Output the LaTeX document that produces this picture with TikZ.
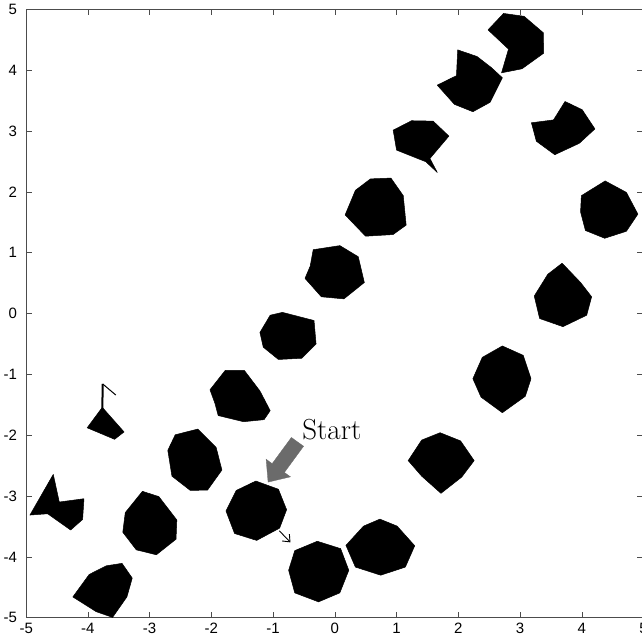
\documentclass[tikz,border=0pt]{standalone}
\usepackage{fontspec}
\newfontfamily\ticksfont{Liberation Sans}
\usetikzlibrary{arrows.meta}
\begin{document}
\begin{tikzpicture}[x=61.74pt,y=60.84pt,
  obst/.style={fill=black,draw=black,line width=0.5pt,line join=round},
  axisline/.style={draw=black!70,line width=0.7pt},
  tickmark/.style={draw=black!70,line width=0.6pt},
  ticklab/.style={font=\ticksfont\fontsize{15}{15}\selectfont,inner sep=0pt,text=black},
  startlab/.style={font=\fontsize{29}{32}\selectfont,inner sep=0pt,anchor=base west},
  bigarrow/.style={fill=black!58,draw=black!58,line width=0.3pt,line join=miter},
  smallarrow/.style={-{Straight Barb[length=6pt,width=10pt]},line width=0.9pt}
]
\useasboundingbox (-5.424,-5.332) rectangle (4.974,5.154);

% axes box and ticks
\draw[axisline] (-5,-5) rectangle (5,5);
\foreach \i in {-4,...,4}{
  \draw[tickmark] (\i,-5) -- (\i,-4.9);
  \draw[tickmark] (\i,5) -- (\i,4.9);
  \draw[tickmark] (-5,\i) -- (-4.9,\i);
  \draw[tickmark] (5,\i) -- (4.9,\i);
}
\foreach \i in {-5,...,5}{
  \node[ticklab,anchor=north] (xl\i) at (\i,-5.085) {\i};
  \node[ticklab,anchor=east] (yl\i) at (-5.146,\i) {\i};
}

% obstacles
\path[obst] (-4.244,-4.657) -- (-3.979,-4.287) -- (-3.700,-4.145) -- (-3.448,-4.105) -- (-3.282,-4.347) -- (-3.369,-4.657) -- (-3.601,-4.993) -- (-3.866,-4.899) -- cycle;
\path[obst] (-3.117,-2.921) -- (-2.851,-3.008) -- (-2.560,-3.392) -- (-2.573,-3.708) -- (-2.891,-3.964) -- (-3.216,-3.883) -- (-3.435,-3.594) -- (-3.395,-3.271) -- cycle;
\path[obst] (-2.586,-1.992) -- (-2.221,-1.898) -- (-1.923,-2.201) -- (-1.830,-2.571) -- (-2.062,-2.900) -- (-2.341,-2.907) -- (-2.639,-2.672) -- (-2.706,-2.248) -- cycle;
\path[obst] (-2.023,-1.252) -- (-1.777,-0.935) -- (-1.466,-0.935) -- (-1.214,-1.272) -- (-1.048,-1.595) -- (-1.147,-1.743) -- (-1.479,-1.777) -- (-1.890,-1.676) -- (-1.943,-1.474) -- cycle;
\path[obst] (-1.214,-0.310) -- (-1.048,-0.027) -- (-0.849,0.020) -- (-0.338,-0.114) -- (-0.305,-0.498) -- (-0.537,-0.734) -- (-0.915,-0.754) -- (-1.160,-0.552) -- cycle;
\path[obst] (-0.484,0.579) -- (-0.40,0.78) -- (-0.351,1.050) -- (0.080,1.117) -- (0.378,0.935) -- (0.477,0.511) -- (0.146,0.242) -- (-0.219,0.276) -- cycle;
\path[obst] (0.166,1.622) -- (0.332,2.026) -- (0.577,2.214) -- (0.908,2.227) -- (1.107,1.938) -- (1.154,1.454) -- (0.942,1.299) -- (0.497,1.272) -- cycle;
\path[obst] (0.944,3.015) -- (1.242,3.170) -- (1.592,3.163) -- (1.846,2.917) -- (1.539,2.549) -- (1.659,2.319) -- (1.474,2.495) -- (0.999,2.687) -- cycle;
\path[obst] (1.658,3.755) -- (1.969,3.910) -- (1.989,4.334) -- (2.301,4.226) -- (2.533,4.044) -- (2.712,3.876) -- (2.513,3.472) -- (2.235,3.318) -- (1.936,3.439) -- cycle;
\path[obst] (2.480,4.663) -- (2.732,4.933) -- (3.064,4.886) -- (3.375,4.616) -- (3.382,4.280) -- (3.031,4.024) -- (2.699,3.957) -- (2.812,4.347) -- cycle;
\path[obst] (3.183,3.136) -- (3.541,3.183) -- (3.727,3.486) -- (4.005,3.351) -- (4.211,3.035) -- (3.959,2.799) -- (3.561,2.611) -- (3.263,2.833) -- cycle;
\path[obst] (3.992,1.938) -- (4.377,2.180) -- (4.721,1.992) -- (4.907,1.635) -- (4.721,1.353) -- (4.370,1.238) -- (4.058,1.366) -- (3.979,1.669) -- cycle;
\path[obst] (3.229,0.289) -- (3.448,0.646) -- (3.680,0.828) -- (3.979,0.511) -- (4.158,0.276) -- (4.078,-0.027) -- (3.694,-0.215) -- (3.316,-0.081) -- cycle;
\path[obst] (2.235,-1.070) -- (2.387,-0.720) -- (2.712,-0.532) -- (3.050,-0.686) -- (3.176,-1.070) -- (3.084,-1.359) -- (2.712,-1.629) -- (2.367,-1.373) -- cycle;
\path[obst] (1.187,-2.416) -- (1.406,-2.079) -- (1.704,-1.958) -- (2.036,-2.093) -- (2.255,-2.416) -- (2.056,-2.685) -- (1.718,-2.954) -- (1.406,-2.672) -- cycle;
\path[obst] (0.179,-3.809) -- (0.464,-3.493) -- (0.729,-3.378) -- (1.008,-3.493) -- (1.293,-3.816) -- (1.141,-4.166) -- (0.743,-4.300) -- (0.332,-4.166) -- cycle;
\path[obst] (-0.749,-4.219) -- (-0.650,-3.896) -- (-0.285,-3.742) -- (0.093,-3.863) -- (0.225,-4.219) -- (0.080,-4.590) -- (-0.265,-4.738) -- (-0.650,-4.590) -- cycle;
\path[obst] (-1.764,-3.244) -- (-1.598,-2.907) -- (-1.280,-2.752) -- (-0.915,-2.887) -- (-0.782,-3.223) -- (-0.895,-3.526) -- (-1.267,-3.728) -- (-1.625,-3.614) -- cycle;
% odd shapes on the left
\path[obst] (-3.767,-1.541) -- (-3.415,-1.945) -- (-3.568,-2.066) -- (-4.012,-1.877) -- cycle;
\draw[line width=2pt] (-3.767,-1.56) -- (-3.760,-1.157);
\draw[line width=1pt] (-3.760,-1.157) -- (-3.548,-1.339);
\path[obst] (-4.939,-3.311) -- (-4.561,-2.643) -- (-4.464,-3.097) -- (-4.064,-3.043) -- (-4.086,-3.383) -- (-4.280,-3.557) -- (-4.652,-3.290) -- cycle;

% start marker
\path[bigarrow] (-0.705,-2.036) -- (-1.016,-2.466) -- (-1.114,-2.394) -- (-1.082,-2.770) -- (-0.719,-2.683) -- (-0.818,-2.611) -- (-0.507,-2.180) -- cycle;
\node[startlab] (start) at (-0.53,-2.07) {Start};
\coordinate (sa) at (-0.90,-3.57);
\coordinate (sb) at (-0.72,-3.76);
\draw[smallarrow] (sa) -- (sb);
\end{tikzpicture}
\end{document}
